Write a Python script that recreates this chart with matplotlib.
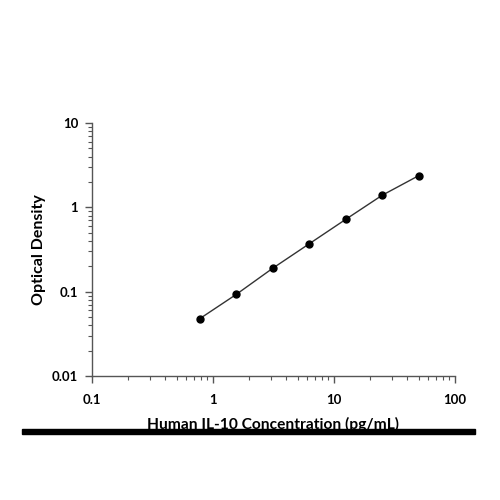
import matplotlib
matplotlib.use("Agg")
import matplotlib.pyplot as plt
from matplotlib.patches import Rectangle
from matplotlib.ticker import LogLocator, FixedLocator, FixedFormatter, NullFormatter

conc = [0.78, 1.56, 3.125, 6.25, 12.5, 25, 50]
od = [0.048, 0.093, 0.19, 0.37, 0.72, 1.39, 2.37]
xticks = [0.1, 1, 10, 100]
xticklabels = ["0.1", "1", "10", "100"]
yticks = [0.01, 0.1, 1, 10]
yticklabels = ["0.01", "0.1", "1", "10"]

plt.rcParams['font.family'] = ['Lato', 'DejaVu Sans']

fig = plt.figure(figsize=(5, 5), dpi=100)
ax = fig.add_axes([0.184, 0.248, 0.726, 0.506])
ax.set_xscale('log')
ax.set_yscale('log')
ax.set_xlim(0.1, 100)
ax.set_ylim(0.01, 10)

ax.plot(conc, od, color='#333333', lw=1.0, zorder=2)
ax.plot(conc, od, 'o', color='black', ms=5, zorder=3)

for s in ['top', 'right']:
    ax.spines[s].set_visible(False)
for s in ['left', 'bottom']:
    ax.spines[s].set_color('#555555')
    ax.spines[s].set_linewidth(1.0)

ax.xaxis.set_major_locator(FixedLocator(xticks))
ax.xaxis.set_major_formatter(FixedFormatter(xticklabels))
ax.yaxis.set_major_locator(FixedLocator(yticks))
ax.yaxis.set_major_formatter(FixedFormatter(yticklabels))
ax.xaxis.set_minor_locator(LogLocator(base=10, subs=range(2, 10)))
ax.yaxis.set_minor_locator(LogLocator(base=10, subs=range(2, 10)))
ax.xaxis.set_minor_formatter(NullFormatter())
ax.yaxis.set_minor_formatter(NullFormatter())
ax.tick_params(which='major', direction='out', length=5, width=1, color='#555555',
               labelsize=9.5)
ax.tick_params(which='minor', direction='out', length=3, width=0.8, color='#555555')
for lab in ax.get_xticklabels() + ax.get_yticklabels():
    lab.set_fontweight('bold')
ax.tick_params(axis='x', which='major', pad=8)
ax.tick_params(axis='y', which='major', pad=5)

ax.set_ylabel('Optical Density', fontsize=11.5, fontweight='bold', labelpad=4.5)
fig.text(0.546, 0.142, 'Human IL-10 Concentration (pg/mL)', fontsize=11.2,
         fontweight='bold', ha='center', va='baseline')

fig.add_artist(Rectangle((0.044, 0.132), 0.906, 0.011, transform=fig.transFigure,
                         color='black', zorder=5))

fig.savefig('out.png', dpi=100)
